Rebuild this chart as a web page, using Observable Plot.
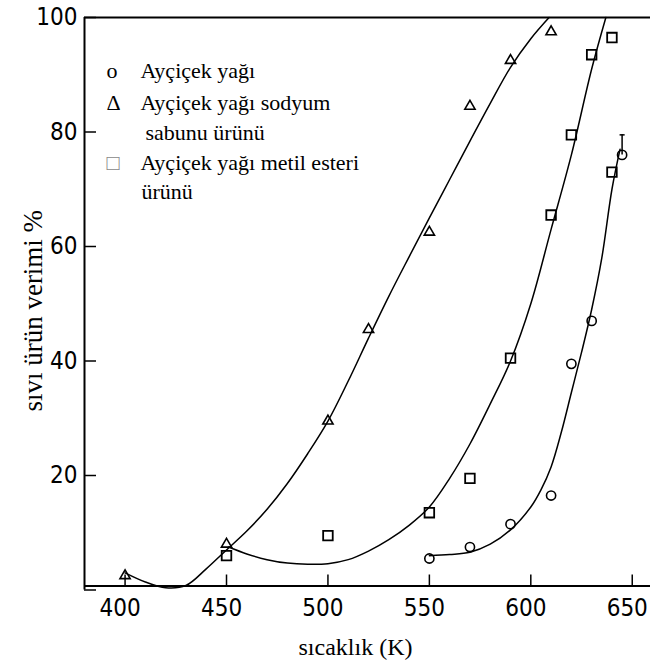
<!DOCTYPE html>
<html>
<head>
<meta charset="utf-8">
<script src="https://cdn.jsdelivr.net/npm/d3@7"></script>
<script src="https://cdn.jsdelivr.net/npm/@observablehq/plot@0.6"></script>
<style>
  body { margin: 0; background: #fff; }
  #chart svg { display: block; }
</style>
</head>
<body>
<div id="chart"></div>
<script>
// Axis ticks and titles
const xTicks = [400, 450, 500, 550, 600, 650];
const yTicks = [0, 20, 40, 60, 80, 100];
const xTitle = "sıcaklık (K)";
const yTitle = "sıvı ürün verimi %";

// Legend entries
const legendSymbols = ["o", "Δ", "□"];
const legendLines = ["Ayçiçek yağı", "Ayçiçek yağı sodyum", "sabunu ürünü", "Ayçiçek yağı metil esteri", "ürünü"];

// Measured yields: sunflower oil (circles)
const oilT = [550, 570, 590, 610, 620, 630, 645];
const oilY = [5.5, 7.5, 11.5, 16.5, 39.5, 47, 76];
// Sodium soap product (triangles)
const soapT = [400, 450, 500, 520, 550, 570, 590, 610];
const soapY = [2.5, 8, 29.5, 45.5, 62.5, 84.5, 92.5, 97.5];
// Methyl ester product (squares)
const esterT = [450, 500, 550, 570, 590, 610, 620, 630, 640, 640];
const esterY = [6, 9.5, 13.5, 19.5, 40.5, 65.5, 79.5, 93.5, 96.5, 73];

// Error bar on the last oil point
const oilErrT = [645];
const oilErrLow = [76];
const oilErrHigh = [79.5];

// Fitted trend curves
const soapFitT = [400, 410, 420, 430, 440, 450, 460, 470, 480, 490, 500, 510, 520, 530, 540, 550, 560, 570, 580, 590, 600, 609];
const soapFitY = [3, 1.4, 0.4, 0.8, 3.7, 7, 10.3, 14.1, 18.6, 23.8, 29.5, 36.5, 44, 51.3, 58.2, 65, 71.7, 78.4, 85, 91.3, 96.3, 100];
const esterFitT = [451, 460, 470, 480, 490, 500, 510, 520, 530, 540, 550, 560, 570, 580, 590, 600, 610, 620, 630, 637];
const esterFitY = [7.5, 6.3, 5.3, 4.7, 4.5, 4.6, 5.3, 6.8, 8.8, 11.3, 14.5, 19.5, 25.5, 32.5, 40, 50, 63, 76, 91, 100];
const oilFitT = [550, 560, 570, 580, 590, 600, 605, 610, 615, 620, 625, 630, 635, 640, 644];
const oilFitY = [6, 6.2, 6.6, 8, 10.5, 14.5, 17.5, 21.5, 27.5, 34.5, 41.5, 49, 58, 70, 77];

const zip = (xs, ys) => xs.map((x, i) => ({x, y: ys[i]}));

const tickFont = "'Liberation Sans Narrow', 'DejaVu Sans Condensed', 'Liberation Sans', sans-serif";
const serif = "'Liberation Serif', 'DejaVu Serif', serif";

// Legend layout (offsets from the top-left of the plot frame)
const legendFontSize = 22;
const legendSymbolDx = 22;
const legendSymbolDy = [60, 92, 152];
const legendTextDx = [56, 56, 61, 56, 57];
const legendTextDy = [60, 92, 122, 152, 181];

const legendMarks = [
  ...legendSymbols.map((s, i) => Plot.text([s], {
    frameAnchor: "top-left", dx: legendSymbolDx, dy: legendSymbolDy[i],
    textAnchor: "start", lineAnchor: "bottom", fontSize: legendFontSize, fontFamily: serif,
    fill: s === "□" ? "#888" : "black"
  })),
  ...legendLines.map((s, i) => Plot.text([s], {
    frameAnchor: "top-left", dx: legendTextDx[i], dy: legendTextDy[i],
    textAnchor: "start", lineAnchor: "bottom", fontSize: legendFontSize, fontFamily: serif, fill: "black"
  }))
];

const plot = Plot.plot({
  width: 650,
  height: 667,
  marginLeft: 84,
  marginRight: 0,
  marginTop: 17,
  marginBottom: 77.5,
  x: {domain: [380, 659]},
  y: {domain: [0, 100]},
  style: {background: "white", color: "black", overflow: "visible"},
  marks: [
    // frame: top border, left axis line, bottom axis line
    Plot.ruleY([100], {strokeWidth: 2}),
    Plot.ruleX([380], {y1: 0, y2: 100, strokeWidth: 2}),
    Plot.ruleY([0.7], {strokeWidth: 2}),
    // x ticks (inward) and their labels, set slightly left of each tick
    Plot.axisX({
      ticks: xTicks, tickSize: -11, dy: -4, tickFormat: () => "",
      label: null, strokeWidth: 1.5
    }),
    Plot.axisX({
      ticks: xTicks, tickSize: 0, tickPadding: 9, dx: -5,
      fontSize: 24, fontFamily: tickFont, label: null
    }),
    Plot.axisY({
      ticks: yTicks, tickSize: -12, tickPadding: 19,
      tickFormat: d => d === 0 ? "" : String(d),
      fontSize: 24, fontFamily: tickFont, label: null, strokeWidth: 1.5
    }),
    Plot.text([xTitle], {
      frameAnchor: "bottom", dx: -12, dy: 65, lineAnchor: "bottom",
      fontSize: 24, fontFamily: serif
    }),
    Plot.text([yTitle], {
      frameAnchor: "left", rotate: -90, dx: -51, dy: 7, textAnchor: "middle", lineAnchor: "middle",
      fontSize: 27, fontFamily: serif
    }),
    // fitted curves
    Plot.line(zip(soapFitT, soapFitY), {x: "x", y: "y", curve: "catmull-rom", strokeWidth: 1.5}),
    Plot.line(zip(esterFitT, esterFitY), {x: "x", y: "y", curve: "catmull-rom", strokeWidth: 1.5}),
    Plot.line(zip(oilFitT, oilFitY), {x: "x", y: "y", curve: "catmull-rom", strokeWidth: 1.5}),
    // error bar
    Plot.ruleX(oilErrT.map((t, i) => ({x: t, y1: oilErrLow[i], y2: oilErrHigh[i]})), {x: "x", y1: "y1", y2: "y2", strokeWidth: 1.5}),
    Plot.ruleY(oilErrT.map((t, i) => ({x1: t - 1, x2: t + 1.5, y: oilErrHigh[i]})), {x1: "x1", x2: "x2", y: "y", strokeWidth: 1.5}),
    // measured points
    Plot.dot(zip(soapT, soapY), {x: "x", y: "y", symbol: "triangle", r: 3.8, stroke: "black", strokeWidth: 1.6, fill: "none"}),
    Plot.dot(zip(esterT, esterY), {x: "x", y: "y", symbol: "square", r: 5.4, stroke: "black", strokeWidth: 1.8, fill: "none"}),
    Plot.dot(zip(oilT, oilY), {x: "x", y: "y", symbol: "circle", r: 4.6, stroke: "black", strokeWidth: 1.6, fill: "none"}),
    ...legendMarks
  ]
});

document.getElementById("chart").appendChild(plot);
</script>
</body>
</html>
